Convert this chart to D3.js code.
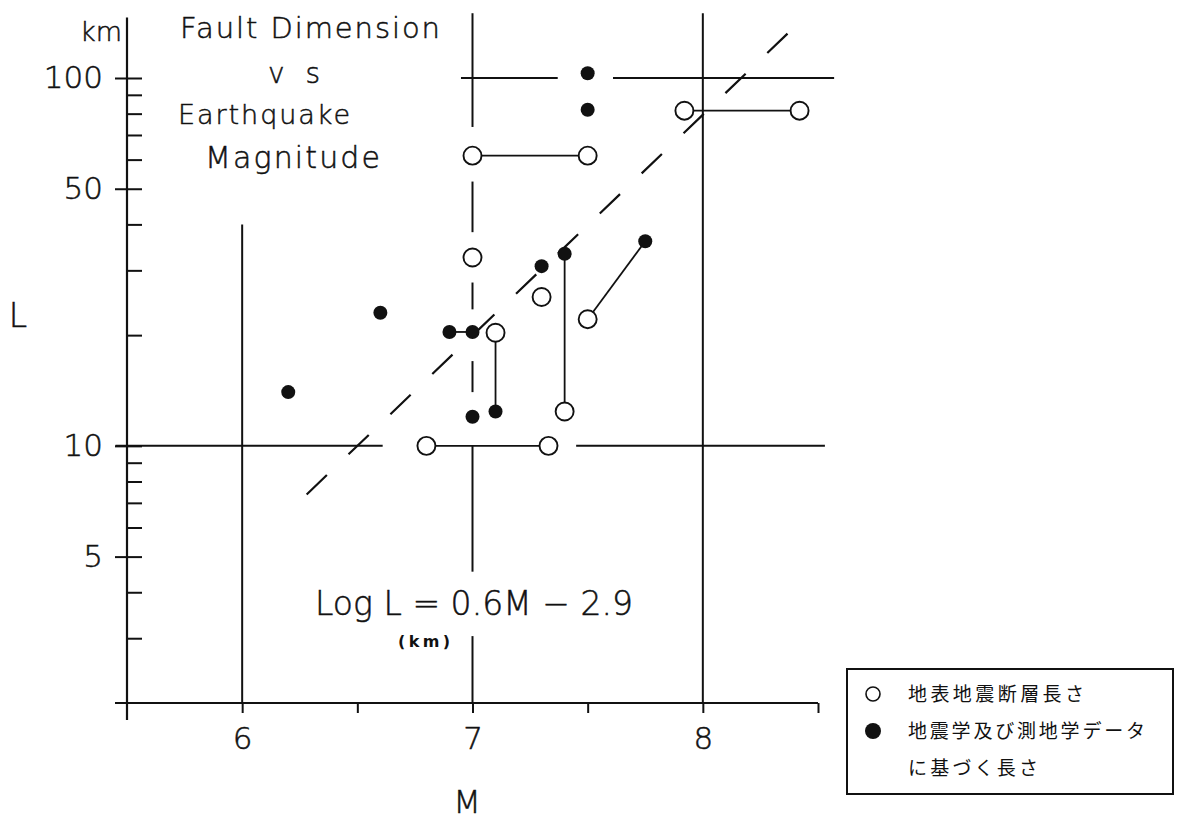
<!DOCTYPE html>
<html>
<head>
<meta charset="utf-8">
<script src="https://cdn.jsdelivr.net/npm/d3@7"></script>
<style>
  body { margin: 0; background: #fff; }
  svg { display: block; font-family: "DejaVu Sans", sans-serif; font-weight: 200; }
  .thin { stroke: #111; stroke-width: 0.5px; }
</style>
</head>
<body>
<svg width="1179" height="821"></svg>
<script>
// values: magnitude M, fault length L (km)
const surfaceLengths = [ // open circles
  [7.0, 61.5], [7.5, 61.5], [7.92, 81.5], [8.42, 81.5], [7.0, 32.5],
  [7.1, 20.3], [7.3, 25.4], [7.4, 12.4], [7.5, 22.1], [6.8, 10.0], [7.33, 10.0]
];
const seismicLengths = [ // filled dots
  [6.2, 14.0], [6.6, 23.0], [6.9, 20.4], [7.0, 20.4], [7.0, 12.0], [7.1, 12.4],
  [7.3, 30.8], [7.4, 33.3], [7.75, 36.0], [7.5, 103], [7.5, 82.0]
];
// two estimates for the same quake, joined by a line
const pairLinks = [
  [[7.0, 61.5], [7.5, 61.5]],
  [[7.92, 81.5], [8.42, 81.5]],
  [[6.8, 10.0], [7.33, 10.0]],
  [[6.9, 20.4], [7.0, 20.4]],
  [[7.1, 12.4], [7.1, 20.3]],
  [[7.4, 33.3], [7.4, 12.4]],
  [[7.75, 36.0], [7.5, 22.1]]
];
// Log L = 0.6M - 2.9
const fitSlope = 0.6, fitIntercept = -2.9;
const fitRange = [6.28, 8.37];

const xTicks = [6, 6.5, 7, 7.5, 8, 8.5];
const xLabels = [6, 7, 8];
const yMajor = [5, 10, 50, 100];
const yMinor = [3, 4, 6, 7, 8, 9, 20, 30, 40, 60, 70, 80, 90];

// grid lines were drawn by hand and broken around the symbols
const gridV = [ // [M, L from, L to]
  [6, 2, 40], [7, 73.6, 150], [7, 38.1, 52.3], [7, 23.5, 27.8],
  [7, 14.0, 17.0], [7, 4.55, 10], [7, 2, 3.04], [8, 2, 150]
];
const gridH = [ // [L, M from, M to]
  [100, 6.95, 7.37], [100, 7.61, 8.57], [10, 5.45, 6.61], [10, 7.45, 8.53]
];

const titleLines = ["Fault Dimension", "v s", "Earthquake", "Magnitude"];
const legendLines = ["地表地震断層長さ", "地震学及び測地学データ", "に基づく長さ"];

window.addEventListener('load', () => {
  const svg = d3.select("svg");

  const x = d3.scaleLinear().domain([5.5, 8.5]).range([127, 818]);
  const y = d3.scaleLog().domain([2, 100]).range([703, 78]);

  const g = svg.append("g")
    .attr("stroke", "#111")
    .attr("fill", "none");

  // grid
  g.selectAll(".gv").data(gridV).enter().append("line")
    .attr("x1", d => x(d[0])).attr("x2", d => x(d[0]))
    .attr("y1", d => y(d[1])).attr("y2", d => y(d[2]))
    .attr("stroke-width", 2);
  g.selectAll(".gh").data(gridH).enter().append("line")
    .attr("x1", d => x(d[1])).attr("x2", d => x(d[2]))
    .attr("y1", d => y(d[0])).attr("y2", d => y(d[0]))
    .attr("stroke-width", 2);

  // axes lines, a bit past the corner like the original
  g.append("line")
    .attr("x1", x(5.5) - 12).attr("x2", x(8.5))
    .attr("y1", y(2)).attr("y2", y(2))
    .attr("stroke-width", 2.2);
  g.append("line")
    .attr("x1", x(5.5)).attr("x2", x(5.5))
    .attr("y1", y(146)).attr("y2", y(2) + 17)
    .attr("stroke-width", 2.2);

  // x ticks point down
  const xAxis = svg.append("g")
    .attr("transform", "translate(0," + y(2) + ")")
    .call(d3.axisBottom(x).tickValues(xTicks).tickSize(10).tickSizeOuter(0).tickPadding(14)
      .tickFormat(d => xLabels.includes(d) ? d : ""));
  xAxis.select(".domain").remove();
  xAxis.selectAll("line").attr("stroke", "#111").attr("stroke-width", 2);
  xAxis.selectAll("text")
    .attr("class", "thin")
    .attr("font-size", 31).attr("font-family", "DejaVu Sans").attr("font-weight", 200).attr("fill", "#111");

  // y ticks: minor to the right, majors cross the axis
  const yRight = svg.append("g")
    .attr("transform", "translate(" + x(5.5) + ",0)")
    .call(d3.axisRight(y).tickValues(yMinor.concat(yMajor)).tickSize(15).tickFormat(""));
  yRight.select(".domain").remove();
  yRight.selectAll("line").attr("stroke", "#111").attr("stroke-width", 2);

  const yLeft = svg.append("g")
    .attr("transform", "translate(" + x(5.5) + ",0)")
    .call(d3.axisLeft(y).tickValues(yMajor).tickSize(12).tickPadding(12).tickFormat(d3.format("d")));
  yLeft.select(".domain").remove();
  yLeft.selectAll("line").attr("stroke", "#111").attr("stroke-width", 2);
  yLeft.selectAll("text")
    .attr("class", "thin")
    .attr("font-size", 31).attr("font-family", "DejaVu Sans").attr("font-weight", 200).attr("fill", "#111");

  // fitted line, dashed
  const fit = fitRange.map(m => [m, Math.pow(10, fitSlope * m + fitIntercept)]);
  g.append("path")
    .datum(fit)
    .attr("d", d3.line().x(d => x(d[0])).y(d => y(d[1])))
    .attr("stroke-width", 2.2)
    .attr("stroke-dasharray", "28 30");

  // links between pairs
  g.selectAll(".link").data(pairLinks).enter().append("line")
    .attr("x1", d => x(d[0][0])).attr("y1", d => y(d[0][1]))
    .attr("x2", d => x(d[1][0])).attr("y2", d => y(d[1][1]))
    .attr("stroke-width", 1.8);

  // symbols
  g.selectAll(".open").data(surfaceLengths).enter().append("circle")
    .attr("cx", d => x(d[0])).attr("cy", d => y(d[1]))
    .attr("r", 9)
    .attr("fill", "#fff")
    .attr("stroke-width", 1.9);
  g.selectAll(".dot").data(seismicLengths).enter().append("circle")
    .attr("cx", d => x(d[0])).attr("cy", d => y(d[1]))
    .attr("r", 7)
    .attr("fill", "#111")
    .attr("stroke", "none");

  // texts
  const txt = svg.append("g").attr("fill", "#111");
  txt.append("text").attr("class", "thin").attr("x", 122).attr("y", 41).attr("text-anchor", "end")
    .attr("font-size", 27).text("km");
  txt.append("text").attr("class", "thin").attr("x", 18).attr("y", 327).attr("text-anchor", "middle")
    .attr("font-size", 33).text("L");
  txt.append("text").attr("class", "thin").attr("x", 467).attr("y", 813).attr("text-anchor", "middle")
    .attr("font-size", 32).text("M");

  const titleX = [180, 268, 178, 205];
  const titleY = [38, 83, 124, 168];
  const titleW = [260, 52, 172, 175];
  const titleS = [29, 28, 27, 30];
  txt.selectAll(".title").data(titleLines).enter().append("text")
    .attr("class", "thin")
    .attr("x", (d, i) => titleX[i]).attr("y", (d, i) => titleY[i])
    .attr("font-size", (d, i) => titleS[i])
    .attr("textLength", (d, i) => titleW[i])
    .attr("lengthAdjust", "spacing")
    .text(d => d);

  txt.append("text").attr("class", "thin").attr("x", 315).attr("y", 615)
    .attr("font-size", 33)
    .attr("textLength", 318).attr("lengthAdjust", "spacing")
    .text("Log L = 0.6M − 2.9");
  txt.append("text").attr("x", 398).attr("y", 647)
    .attr("font-size", 16).attr("font-weight", "bold")
    .attr("textLength", 52).attr("lengthAdjust", "spacing")
    .text("(km)");

  // legend
  const leg = svg.append("g");
  leg.append("rect")
    .attr("x", 847).attr("y", 669).attr("width", 326).attr("height", 125)
    .attr("fill", "#fff").attr("stroke", "#111").attr("stroke-width", 2);
  leg.append("circle").attr("cx", 873).attr("cy", 694).attr("r", 7)
    .attr("fill", "#fff").attr("stroke", "#111").attr("stroke-width", 1.6);
  leg.append("circle").attr("cx", 873).attr("cy", 731).attr("r", 8)
    .attr("fill", "#111");
  const legW = [176, 237, 130];
  leg.selectAll(".lt").data(legendLines).enter().append("text")
    .attr("x", 908).attr("y", (d, i) => 701 + i * 37)
    .attr("font-family", "'Noto Sans CJK JP', sans-serif")
    .attr("font-weight", 400)
    .attr("font-size", 19)
    .attr("textLength", (d, i) => legW[i]).attr("lengthAdjust", "spacing")
    .attr("fill", "#111")
    .text(d => d);
});
</script>
</body>
</html>
